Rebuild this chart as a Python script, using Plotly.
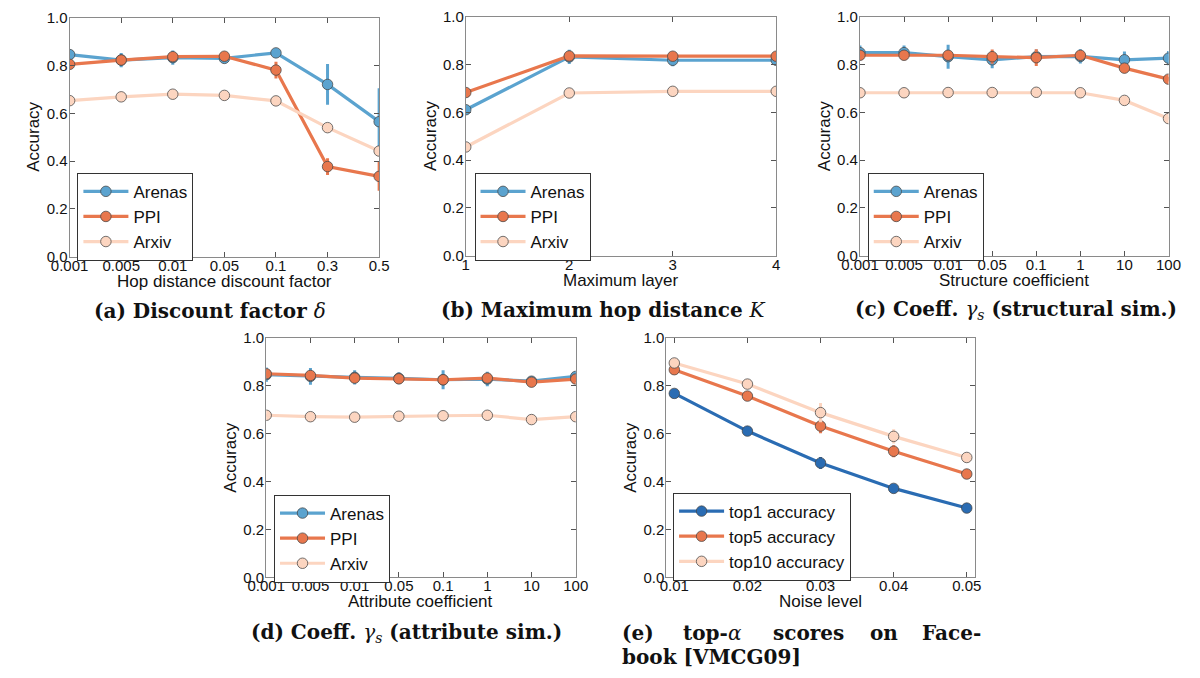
import plotly.graph_objects as go

W, H = 1200, 678

# ---------------- data ----------------
cats_a = ["0.001", "0.005", "0.01", "0.05", "0.1", "0.3", "0.5"]
a_arenas = [0.846, 0.823, 0.833, 0.830, 0.853, 0.721, 0.565]
a_arenas_err = [0.02, 0.03, 0.03, 0.02, 0.015, 0.085, 0.14]
a_ppi = [0.805, 0.823, 0.837, 0.839, 0.781, 0.377, 0.336]
a_ppi_err = [0.012, 0.02, 0.015, 0.012, 0.035, 0.035, 0.06]
a_arxiv = [0.653, 0.669, 0.680, 0.675, 0.652, 0.540, 0.442]
a_arxiv_err = [0.01, 0.01, 0.01, 0.01, 0.01, 0.01, 0.01]

cats_b = [1, 2, 3, 4]
b_arenas = [0.611, 0.832, 0.818, 0.818]
b_arenas_err = [0.01, 0.03, 0.025, 0.02]
b_ppi = [0.683, 0.836, 0.835, 0.835]
b_ppi_err = [0.01, 0.01, 0.01, 0.01]
b_arxiv = [0.455, 0.681, 0.688, 0.688]
b_arxiv_err = [0.005, 0.005, 0.005, 0.005]

cats_c = ["0.001", "0.005", "0.01", "0.05", "0.1", "1", "10", "100"]
c_arenas = [0.850, 0.850, 0.833, 0.820, 0.833, 0.834, 0.820, 0.827]
c_arenas_err = [0.03, 0.03, 0.05, 0.035, 0.03, 0.03, 0.035, 0.03]
c_ppi = [0.839, 0.839, 0.839, 0.833, 0.829, 0.839, 0.785, 0.739]
c_ppi_err = [0.01, 0.02, 0.01, 0.03, 0.035, 0.01, 0.01, 0.01]
c_arxiv = [0.682, 0.682, 0.683, 0.683, 0.684, 0.682, 0.650, 0.574]
c_arxiv_err = [0.005, 0.005, 0.005, 0.005, 0.005, 0.005, 0.005, 0.005]

cats_d = ["0.001", "0.005", "0.01", "0.05", "0.1", "1", "10", "100"]
d_arenas = [0.845, 0.838, 0.834, 0.830, 0.824, 0.827, 0.818, 0.838]
d_arenas_err = [0.03, 0.035, 0.03, 0.025, 0.04, 0.03, 0.02, 0.02]
d_ppi = [0.849, 0.842, 0.831, 0.828, 0.824, 0.831, 0.814, 0.827]
d_ppi_err = [0.01, 0.02, 0.01, 0.01, 0.01, 0.01, 0.01, 0.01]
d_arxiv = [0.676, 0.670, 0.668, 0.672, 0.674, 0.676, 0.658, 0.670]
d_arxiv_err = [0.005, 0.005, 0.005, 0.005, 0.005, 0.005, 0.005, 0.005]

noise_e = [0.01, 0.02, 0.03, 0.04, 0.05]
e_top1 = [0.767, 0.610, 0.477, 0.371, 0.289]
e_top1_err = [0.01, 0.01, 0.025, 0.01, 0.008]
e_top5 = [0.866, 0.756, 0.631, 0.526, 0.431]
e_top5_err = [0.01, 0.01, 0.03, 0.025, 0.01]
e_top10 = [0.894, 0.806, 0.687, 0.588, 0.500]
e_top10_err = [0.01, 0.01, 0.04, 0.03, 0.01]

# ---------------- style ----------------
C_BLUE = "#5ba3cf"
C_ORANGE = "#e8774d"
C_PEACH = "#fcd5c0"
C_DARK = "#2a6cb3"
SPINE = "#8a8a8a"
FONT = "Liberation Sans, Arial, sans-serif"
SERIF = "DejaVu Serif, serif"

fig = go.Figure()


def px_x(a, b):
    return [a / W, b / W]


def px_y(top, bottom):
    return [1 - bottom / H, 1 - top / H]


# (axis id, x domain px, y domain px, legend top-left px)
panels = [
    ("", (52, 370), (9, 254), (60, 168)),
    ("2", (459, 778), (8, 253), (468, 168)),
    ("3", (864, 1181), (8, 253), (872, 168)),
    ("4", (254, 572), (337, 583), (262, 498)),
    ("5", (665, 982), (337, 583), (672, 496)),
]


def add_series(k, x, y, err, name, color, legend):
    fig.add_trace(go.Scatter(
        x=x, y=y, name=name, mode="lines+markers",
        error_y=dict(type="data", array=err, visible=True, color=color,
                     thickness=3, width=0),
        line=dict(color=color, width=3.2),
        marker=dict(size=10.5, color=color,
                    line=dict(color="rgba(70,70,70,0.75)", width=1)),
        xaxis="x" + k, yaxis="y" + k, legend=legend,
    ))


# panel a
ia = list(range(len(cats_a)))
add_series("", ia, a_arenas, a_arenas_err, "Arenas", C_BLUE, "legend")
add_series("", ia, a_ppi, a_ppi_err, "PPI", C_ORANGE, "legend")
add_series("", ia, a_arxiv, a_arxiv_err, "Arxiv", C_PEACH, "legend")
# panel b
add_series("2", cats_b, b_arenas, b_arenas_err, "Arenas", C_BLUE, "legend2")
add_series("2", cats_b, b_ppi, b_ppi_err, "PPI", C_ORANGE, "legend2")
add_series("2", cats_b, b_arxiv, b_arxiv_err, "Arxiv", C_PEACH, "legend2")
# panel c
ic = list(range(len(cats_c)))
add_series("3", ic, c_arenas, c_arenas_err, "Arenas", C_BLUE, "legend3")
add_series("3", ic, c_ppi, c_ppi_err, "PPI", C_ORANGE, "legend3")
add_series("3", ic, c_arxiv, c_arxiv_err, "Arxiv", C_PEACH, "legend3")
# panel d
idd = list(range(len(cats_d)))
add_series("4", idd, d_arenas, d_arenas_err, "Arenas", C_BLUE, "legend4")
add_series("4", idd, d_ppi, d_ppi_err, "PPI", C_ORANGE, "legend4")
add_series("4", idd, d_arxiv, d_arxiv_err, "Arxiv", C_PEACH, "legend4")
# panel e
add_series("5", noise_e, e_top1, e_top1_err, "top1 accuracy", C_DARK, "legend5")
add_series("5", noise_e, e_top5, e_top5_err, "top5 accuracy", C_ORANGE, "legend5")
add_series("5", noise_e, e_top10, e_top10_err, "top10 accuracy", C_PEACH, "legend5")

x_titles = ["Hop distance discount factor", "Maximum layer", "Structure coefficient",
            "Attribute coefficient", "Noise level"]
x_ticks = [
    dict(tickmode="array", tickvals=ia, ticktext=cats_a, range=[0, len(cats_a) - 1]),
    dict(tickmode="array", tickvals=cats_b, ticktext=[str(v) for v in cats_b], range=[1, 4]),
    dict(tickmode="array", tickvals=ic, ticktext=cats_c, range=[0, len(cats_c) - 1]),
    dict(tickmode="array", tickvals=idd, ticktext=cats_d, range=[0, len(cats_d) - 1]),
    dict(tickmode="array", tickvals=noise_e, ticktext=[f"{v:.2f}" for v in noise_e],
         range=[0.0089, 0.0511]),
]

layout = {}
annotations = []
axis_common = dict(showline=True, linecolor=SPINE, linewidth=1, mirror="allticks",
                   ticks="inside", ticklen=5, tickcolor="#555", showgrid=False,
                   zeroline=False, tickfont=dict(family=FONT, size=15, color="#111"))
for i, (k, xp, yp, lp) in enumerate(panels):
    xa = dict(axis_common, domain=px_x(*xp), anchor="y" + k, ticklabelstandoff=-5,
              **x_ticks[i])
    ya = dict(axis_common, domain=px_y(*yp), anchor="x" + k, range=[0, 1], dtick=0.2,
              tick0=0, tickformat=".1f", ticklabelstandoff=-2)
    layout["xaxis" + k] = xa
    layout["yaxis" + k] = ya
    layout["legend" + k] = dict(x=lp[0] / W, y=1 - lp[1] / H, xref="paper", yref="paper",
                                xanchor="left", yanchor="top", bgcolor="white",
                                bordercolor="#333", borderwidth=1,
                                font=dict(family=FONT, size=17, color="#111"),
                                itemwidth=45, tracegroupgap=0)
    # axis titles
    annotations.append(dict(x=(xp[0] + xp[1]) / 2 / W, y=1 - (yp[1] + 25) / H,
                            xref="paper", yref="paper", text=x_titles[i],
                            showarrow=False, xanchor="center", yanchor="middle",
                            font=dict(family=FONT, size=17, color="#111")))
    annotations.append(dict(x=(xp[0] - 37) / W, y=1 - (yp[0] + yp[1]) / 2 / H,
                            xref="paper", yref="paper", text="Accuracy", textangle=-90,
                            showarrow=False, xanchor="center", yanchor="middle",
                            font=dict(family=FONT, size=17, color="#111")))

captions = [
    (196, 310, "<b>(a) Discount factor </b><i>δ</i>"),
    (600, 309, "<b>(b) Maximum hop distance </b><i>K</i>"),
    (1024, 309, "<b>(c) Coeff. </b><i>γ<sub>s</sub></i><b> (structural sim.)</b>"),
    (398, 640, "<b>(d) Coeff. </b><i>γ<sub>s</sub></i><b> (attribute sim.)</b>"),
]
for cx, cy, t in captions:
    annotations.append(dict(x=cx / W, y=1 - cy / H, xref="paper", yref="paper",
                            text=t, showarrow=False, xanchor="center", yanchor="middle",
                            font=dict(family=SERIF, size=20, color="#111")))
# justified two-line caption (e)
e_words = [(617, "left", "<b>(e)</b>"), (680, "left", "<b>top-</b><i>α</i>"),
           (773, "left", "<b>scores</b>"), (872, "left", "<b>on</b>"),
           (990, "right", "<b>Face-</b>")]
for wx, anc, t in e_words:
    annotations.append(dict(x=wx / W, y=1 - 640 / H, xref="paper", yref="paper",
                            text=t, showarrow=False, xanchor=anc, yanchor="middle",
                            font=dict(family=SERIF, size=20, color="#111")))
annotations.append(dict(x=617 / W, y=1 - 665 / H, xref="paper", yref="paper",
                        text="<b>book [VMCG09]</b>", showarrow=False, xanchor="left",
                        yanchor="middle", font=dict(family=SERIF, size=20, color="#111")))

fig.update_layout(
    width=W, height=H, margin=dict(l=0, r=0, t=0, b=0),
    paper_bgcolor="white", plot_bgcolor="white",
    showlegend=True, annotations=annotations, **layout,
)

fig.write_html("out.html")
